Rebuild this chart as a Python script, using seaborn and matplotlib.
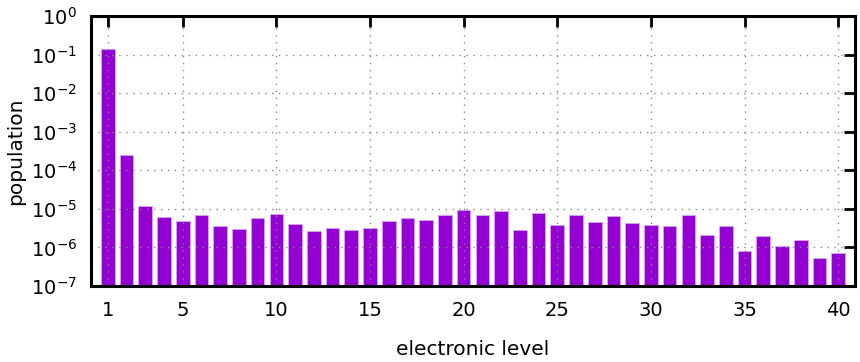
import numpy as np
import pandas as pd
import matplotlib
matplotlib.use("Agg")
import matplotlib.pyplot as plt
import seaborn as sns

levels = list(range(1, 41))
population = [
    1.42e-1, 2.5e-4, 1.16e-5, 6.3e-6, 4.8e-6, 6.8e-6, 3.66e-6, 3.06e-6, 5.8e-6, 7.4e-6,
    3.97e-6, 2.62e-6, 3.13e-6, 2.77e-6, 3.25e-6, 4.75e-6, 5.7e-6, 5.14e-6, 6.9e-6, 9.3e-6,
    6.8e-6, 8.6e-6, 2.83e-6, 7.65e-6, 3.89e-6, 6.9e-6, 4.66e-6, 6.65e-6, 4.2e-6, 3.81e-6,
    3.59e-6, 7.06e-6, 2.14e-6, 3.59e-6, 8.07e-7, 1.94e-6, 1.07e-6, 1.53e-6, 5.3e-7, 7.2e-7,
]
xticks = [1, 5, 10, 15, 20, 25, 30, 35, 40]
yexps = [0, -1, -2, -3, -4, -5, -6, -7]

df = pd.DataFrame({"level": levels, "population": population})

sns.set_style("white")
plt.rcParams["font.family"] = ["DejaVu Sans"]
plt.rcParams["mathtext.fontset"] = "dejavusans"
plt.rcParams["mathtext.default"] = "regular"
plt.rcParams["text.color"] = "black"
plt.rcParams["axes.labelcolor"] = "black"
plt.rcParams["xtick.color"] = "black"
plt.rcParams["ytick.color"] = "black"

fig = plt.figure(figsize=(8.6, 3.62), dpi=100)
ax = fig.add_axes([91 / 860, 1 - 286 / 362, (855 - 91) / 860, (286 - 16) / 362])

sns.barplot(data=df, x="level", y="population", native_scale=True, width=0.73,
            color="#9400D3", saturation=1, edgecolor="#d7a6ee", linewidth=0.6,
            ax=ax, zorder=1)

ax.set_yscale("log")
ax.set_ylim(1e-7, 1)
ax.set_xlim(0.1, 40.9)

ax.set_xticks(xticks)
ax.set_xticklabels([str(t) for t in xticks])
ax.set_yticks([10.0 ** e for e in yexps])
ax.set_yticklabels([f"$10^{{{e}}}$" for e in yexps])
ax.yaxis.set_minor_locator(matplotlib.ticker.NullLocator())
ax.xaxis.set_minor_locator(matplotlib.ticker.NullLocator())

ax.tick_params(axis="both", which="major", direction="in", length=8, width=2,
               labelsize=14, top=True, right=True, colors="black",
               labelcolor="black")
ax.tick_params(axis="y", pad=10)
ax.tick_params(axis="x", pad=11)

ax.set_axisbelow(False)
ax.grid(True, which="major", color="#888888", linestyle=(0, (1, 4)), linewidth=1.0)
for ln in ax.get_xgridlines() + ax.get_ygridlines():
    ln.set_zorder(2)

for sp in ax.spines.values():
    sp.set_visible(True)
    sp.set_color("black")
    sp.set_linewidth(2.2)
    sp.set_zorder(3)

ax.set_xlabel("electronic level", fontsize=14.5, labelpad=14, color="black")
ax.set_ylabel("population", fontsize=14.5, labelpad=4, color="black")

fig.savefig("out.png", dpi=100)
